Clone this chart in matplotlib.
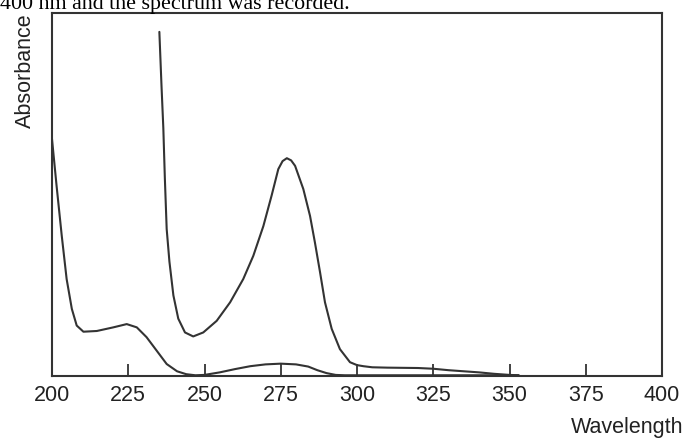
import matplotlib
matplotlib.use("Agg")
import matplotlib.pyplot as plt

# Lower curve (starts high at 200 nm, shoulder near 225, small hump near 275)
wl_low = [200, 201.5, 203.2, 204.8, 206.5, 208.1, 210.3, 214.7, 220.1, 224.5, 227.8,
          231.0, 234.3, 237.6, 241, 244, 247, 250, 255, 260, 265, 270, 275, 280, 284,
          287, 290, 293, 296, 320, 353]
abs_low = [0.653, 0.524, 0.386, 0.267, 0.185, 0.139, 0.122, 0.124, 0.134, 0.143, 0.134,
           0.107, 0.070, 0.033, 0.013, 0.005, 0.002, 0.003, 0.010, 0.019, 0.027, 0.032,
           0.034, 0.032, 0.026, 0.016, 0.008, 0.003, 0.002, 0.002, 0.002]

# Upper curve (starts at ~235 nm, minimum ~246, peak ~277)
wl_up = [235.2, 235.9, 236.5, 237.0, 237.6, 238.5, 239.8, 241.4, 243.6, 246.3, 249.6,
         254.0, 258.4, 262.7, 266.0, 269.3, 272.0, 274.2, 275.6, 277.0, 278.4, 279.7,
         282.4, 284.6, 286.2, 287.9, 289.5, 291.7, 294.4, 297.7, 300.0, 302.1, 305, 310,
         320, 325, 330, 335, 340, 345, 350, 353]
abs_up = [0.948, 0.80, 0.683, 0.545, 0.405, 0.315, 0.222, 0.158, 0.120, 0.109, 0.120,
          0.152, 0.203, 0.267, 0.331, 0.413, 0.497, 0.570, 0.592, 0.600, 0.594, 0.579,
          0.515, 0.441, 0.368, 0.285, 0.203, 0.130, 0.074, 0.038, 0.030, 0.027, 0.024, 0.023,
          0.022, 0.020, 0.016, 0.013, 0.010, 0.006, 0.003, 0.002]

xticks = [200, 225, 250, 275, 300, 325, 350, 375, 400]

line_col = "#333333"
fig = plt.figure(figsize=(6.83, 4.39), dpi=100)
ax = fig.add_axes([52/683, 62/439, 610/683, 363/439])

ax.plot(wl_low, abs_low, color=line_col, lw=1.5, solid_joinstyle="round", solid_capstyle="round")
ax.plot(wl_up, abs_up, color=line_col, lw=1.5, solid_joinstyle="round", solid_capstyle="round")

ax.set_xlim(200, 400)
ax.set_ylim(0, 1)
ax.set_xticks(xticks)
ax.set_xticklabels([str(t) for t in xticks], family="Liberation Sans", fontsize=15.5, color="#222222")
ax.set_yticks([])
ax.tick_params(axis="x", direction="in", length=9, width=1.3, color=line_col, pad=6)
for s in ax.spines.values():
    s.set_linewidth(1.5)
    s.set_color(line_col)

fig.text(25/683, 1 - 13/439, "Absorbance", rotation=90, ha="center", va="top",
         family="Liberation Sans", fontsize=15.5, color="#222222")
fig.text(1.0, 1 - 428/439, "Wavelength", ha="right", va="center",
         family="Liberation Sans", fontsize=15.5, color="#222222")
fig.text(0.0, 1 - 9/439, "400 nm and the spectrum was recorded.", ha="left", va="baseline",
         family="Liberation Serif", fontsize=15.8, color="black")

fig.savefig("out.png", dpi=100)
